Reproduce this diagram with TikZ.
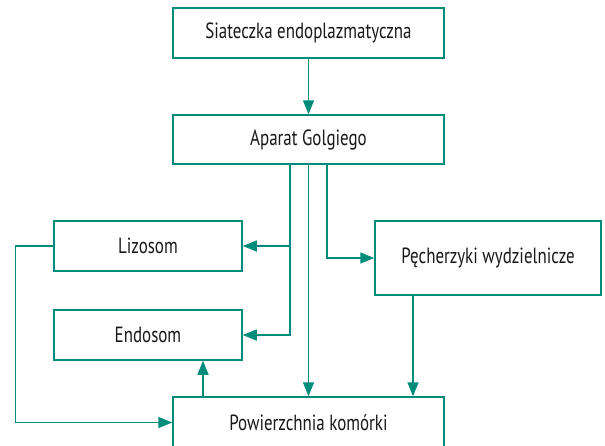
\documentclass[tikz,border=0pt]{standalone}
\usepackage{fontspec}
\setmainfont{PT Sans}[FakeStretch=0.77]
\usetikzlibrary{arrows.meta}
\definecolor{teal1}{RGB}{0,140,122}
\tikzset{
  box/.style={draw=teal1, line width=1.5pt, fill=white, inner sep=0pt,
    font=\fontsize{22}{26}\selectfont, text=black!90},
  arr/.style={draw=teal1, line width=1.5pt, -{Triangle[length=14pt,width=11pt]}},
  ln/.style={draw=teal1, line width=1.5pt}
}
\begin{document}
\begin{tikzpicture}[x=1pt,y=-1pt]
\useasboundingbox (0,0) rectangle (605,445);
\node[box, minimum width=271pt, minimum height=50pt] (er) at (308.5,33) {Siateczka endoplazmatyczna};
\node[box, minimum width=271pt, minimum height=49pt] (golgi) at (308.5,139.5) {Aparat Golgiego};
\node[box, minimum width=188pt, minimum height=50pt] (liz) at (148,246) {Lizosom};
\node[box, minimum width=188pt, minimum height=50pt] (endo) at (148,335) {Endosom};
\node[box, minimum width=226pt, minimum height=74pt] (pech) at (488,258) {Pęcherzyki wydzielnicze};
\node[box, minimum width=271pt, minimum height=51pt] (pow) at (308.5,422.5) {Powierzchnia komórki};

\draw[arr] (er.south) -- (golgi.north);
\draw[arr] ([xshift=-18.5pt]golgi.south) |- (liz.east);
\draw[arr] ([xshift=-18.5pt]golgi.south) |- (endo.east);
\draw[arr] (golgi.south) -- (pow.north);
\draw[arr] ([xshift=18.5pt]golgi.south) |- (pech.west);
\draw[arr] ([xshift=-75pt]pech.south) -- ([xshift=-75pt]pech.south |- pow.north);
\draw[arr] ([xshift=-105.5pt]pow.north) -- ([xshift=-105.5pt]pow.north |- endo.south);
\draw[arr] (liz.west) -- ++(-38pt,0) |- (pow.west);
\end{tikzpicture}
\end{document}
